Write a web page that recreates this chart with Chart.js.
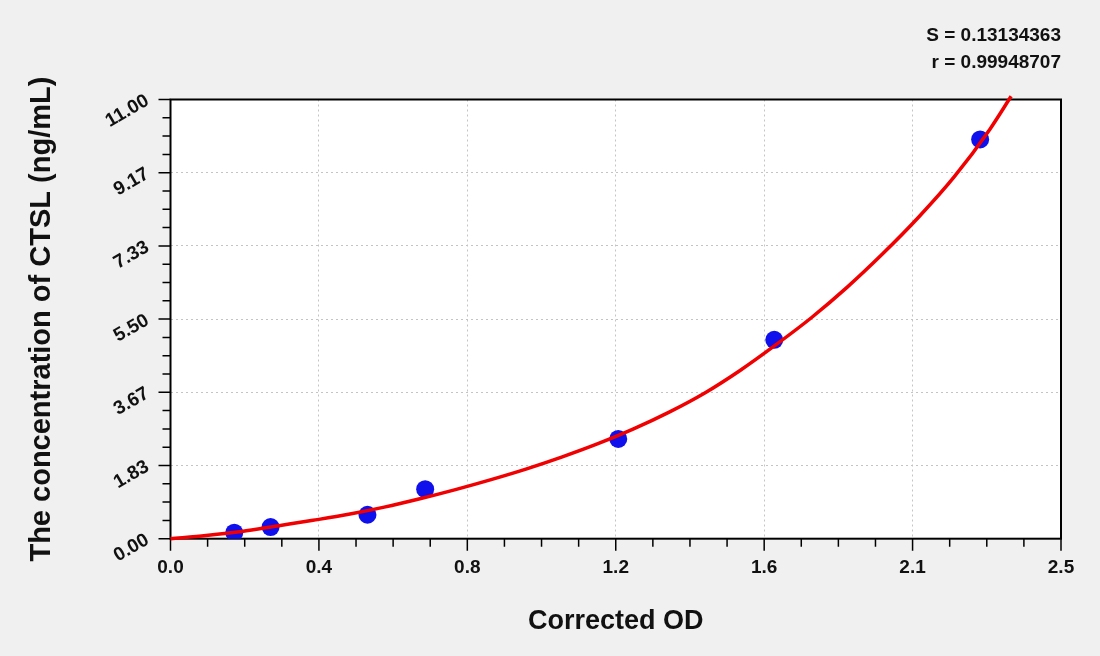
<!DOCTYPE html>
<html>
<head>
<meta charset="utf-8">
<script src="https://cdn.jsdelivr.net/npm/chart.js@4.4.1/dist/chart.umd.min.js"></script>
<style>
  html, body { margin: 0; padding: 0; background: #f0f0f0; }
  #wrap { width: 1100px; height: 656px; }
</style>
</head>
<body>
<div id="wrap"><canvas id="cv" width="1100" height="656"></canvas></div>
<script>
// ---------------- data ----------------
const odValues   = [0.179, 0.281, 0.553, 0.715, 1.257, 1.695, 2.273];
const concValues = [0.15, 0.29, 0.60, 1.24, 2.50, 4.98, 10.0];

// fitted curve
const curveOd   = [0, 0.1, 0.2, 0.3, 0.4, 0.5, 0.6, 0.7, 0.8, 0.9, 1.0, 1.1, 1.2,
                   1.3, 1.4, 1.5, 1.6, 1.7, 1.8, 1.9, 2.0, 2.1, 2.2, 2.3, 2.36];
const curveConc = [0, 0.08, 0.18, 0.32, 0.46, 0.61, 0.79, 1.00, 1.23, 1.48, 1.75, 2.05, 2.38,
                   2.75, 3.17, 3.65, 4.22, 4.86, 5.54, 6.30, 7.14, 8.05, 9.06, 10.25, 11.08];

const xTickValues = [0, 0.4167, 0.8333, 1.25, 1.6667, 2.0833, 2.5];
const xTickLabels = ['0.0', '0.4', '0.8', '1.2', '1.6', '2.1', '2.5'];
const yTickValues = [0, 1.8333, 3.6667, 5.5, 7.3333, 9.1667, 11];
const yTickLabels = ['0.00', '1.83', '3.67', '5.50', '7.33', '9.17', '11.00'];

const statLines = ['S = 0.13134363', 'r = 0.99948707'];

const FONT = "'Liberation Sans', Arial, sans-serif";

// ---------------- helpers ----------------
function toPoints(xs, ys) {
    return xs.map(function (x, i) { return { x: x, y: ys[i] }; });
}

// white plot area, frame, major + minor tick marks
const framePlugin = {
    id: 'frame',
    beforeDraw(chart) {
        const a = chart.chartArea, ctx = chart.ctx;
        ctx.save();
        ctx.fillStyle = '#ffffff';
        ctx.fillRect(a.left, a.top, a.right - a.left, a.bottom - a.top);
        ctx.restore();
    },
    beforeDatasetsDraw(chart) {
        const a = chart.chartArea, ctx = chart.ctx;
        const xs = chart.scales.x, ys = chart.scales.y;
        ctx.save();
        ctx.strokeStyle = '#000';
        ctx.lineWidth = 1.5;
        ctx.beginPath();
        // x ticks
        for (let i = 0; i < xTickValues.length; i++) {
            let px = xs.getPixelForValue(xTickValues[i]);
            ctx.moveTo(px, a.bottom); ctx.lineTo(px, a.bottom + 12);
            if (i < xTickValues.length - 1) {
                let step = (xTickValues[i + 1] - xTickValues[i]) / 4;
                for (let k = 1; k < 4; k++) {
                    let mx = xs.getPixelForValue(xTickValues[i] + k * step);
                    ctx.moveTo(mx, a.bottom); ctx.lineTo(mx, a.bottom + 8);
                }
            }
        }
        // y ticks
        for (let i = 0; i < yTickValues.length; i++) {
            let py = ys.getPixelForValue(yTickValues[i]);
            ctx.moveTo(a.left, py); ctx.lineTo(a.left - 12, py);
            if (i < yTickValues.length - 1) {
                let step = (yTickValues[i + 1] - yTickValues[i]) / 4;
                for (let k = 1; k < 4; k++) {
                    let my = ys.getPixelForValue(yTickValues[i] + k * step);
                    ctx.moveTo(a.left, my); ctx.lineTo(a.left - 8, my);
                }
            }
        }
        ctx.stroke();
        ctx.lineWidth = 2;
        ctx.strokeRect(a.left, a.top, a.right - a.left, a.bottom - a.top);
        ctx.restore();
    },
    afterDraw(chart) {
        const ctx = chart.ctx;
        ctx.save();
        ctx.fillStyle = '#111';
        ctx.font = 'bold 19px ' + FONT;
        ctx.textAlign = 'right';
        ctx.textBaseline = 'middle';
        ctx.fillText(statLines[0], chart.chartArea.right, 36);
        ctx.fillText(statLines[1], chart.chartArea.right, 63);
        ctx.restore();
    }
};

// ---------------- chart ----------------
const ctx = document.getElementById('cv').getContext('2d');
const myChart = new Chart(ctx, {
    type: 'scatter',
    data: {
        datasets: [
            {
                label: 'fit',
                data: toPoints(curveOd, curveConc),
                showLine: true,
                borderColor: '#f00000',
                borderWidth: 3.5,
                pointRadius: 0,
                cubicInterpolationMode: 'monotone',
                clip: false,
                order: 0
            },
            {
                label: 'standards',
                data: toPoints(odValues, concValues),
                pointRadius: 9,
                pointHoverRadius: 9,
                backgroundColor: '#1010ec',
                borderWidth: 0,
                order: 1
            }
        ]
    },
    options: {
        responsive: false,
        animation: false,
        events: [],
        layout: { padding: { left: 25, right: 39, top: 99.5, bottom: 0 } },
        plugins: {
            legend: { display: false },
            tooltip: { enabled: false }
        },
        scales: {
            x: {
                type: 'linear',
                position: 'bottom',
                min: 0,
                max: 2.5,
                afterBuildTicks: function (s) {
                    s.ticks = xTickValues.map(function (v) { return { value: v }; });
                },
                afterFit: function (s) {
                    s.height = 117.3;
                    s.paddingLeft = 0;
                    s.paddingRight = 0;
                },
                ticks: {
                    autoSkip: false,
                    maxRotation: 0,
                    padding: 18,
                    color: '#111',
                    font: { family: FONT, size: 19, weight: 'bold' },
                    callback: function (v, i) { return xTickLabels[i]; }
                },
                grid: { color: '#c4c4c4', lineWidth: 1, drawTicks: false },
                border: { display: false, dash: [2, 3] },
                title: {
                    display: true,
                    text: 'Corrected OD',
                    color: '#111',
                    font: { family: FONT, size: 27, weight: 'bold' },
                    padding: { top: 0, bottom: 18 }
                }
            },
            y: {
                type: 'linear',
                position: 'left',
                min: 0,
                max: 11,
                afterBuildTicks: function (s) {
                    s.ticks = yTickValues.map(function (v) { return { value: v }; });
                },
                afterFit: function (s) {
                    s.width = 145.5;
                    s.paddingTop = 0;
                    s.paddingBottom = 0;
                },
                ticks: {
                    autoSkip: false,
                    minRotation: 30,
                    maxRotation: 30,
                    padding: 23,
                    color: '#111',
                    font: { family: FONT, size: 19, weight: 'bold' },
                    callback: function (v, i) { return yTickLabels[i]; }
                },
                grid: { color: '#c4c4c4', lineWidth: 1, drawTicks: false },
                border: { display: false, dash: [2, 3] },
                title: {
                    display: true,
                    text: 'The concentration of CTSL (ng/mL)',
                    color: '#111',
                    font: { family: FONT, size: 29, weight: 'bold' },
                    padding: { top: 0, bottom: 0 }
                }
            }
        }
    },
    plugins: [framePlugin]
});
</script>
</body>
</html>
